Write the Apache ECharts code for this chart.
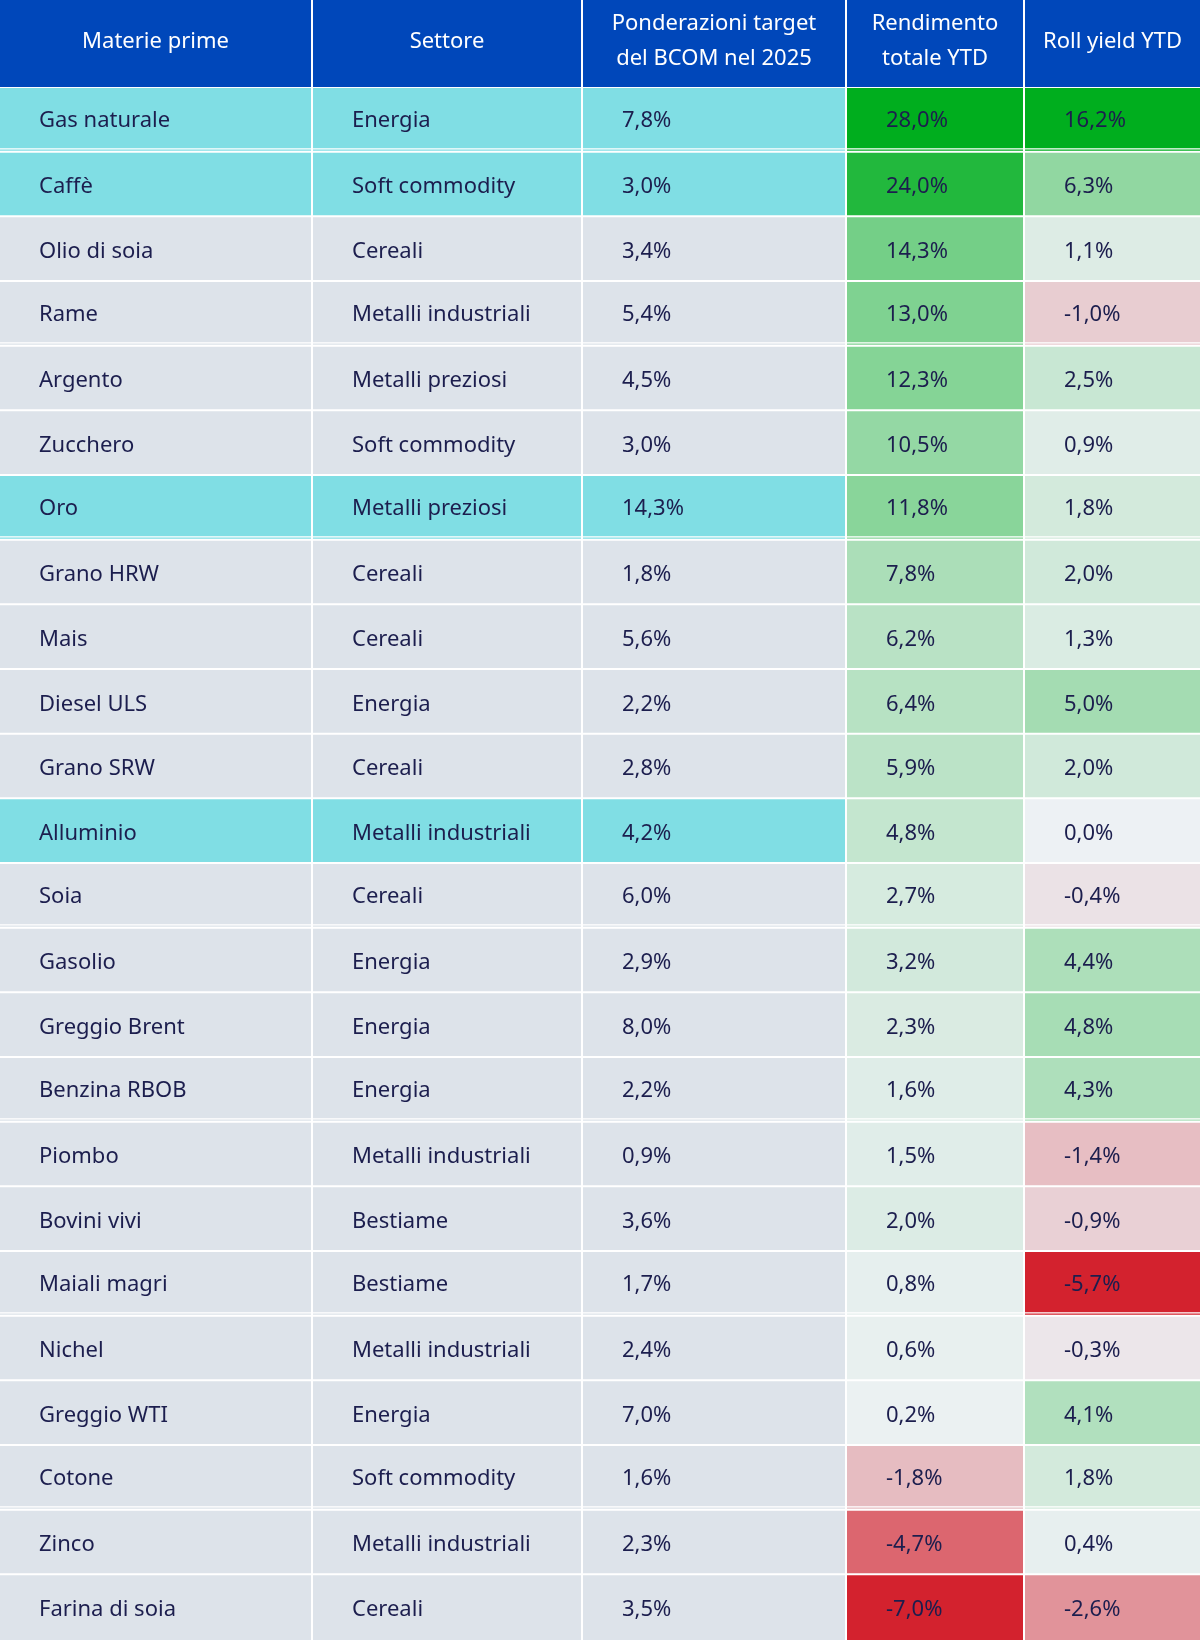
<!DOCTYPE html>
<html>
<head>
<meta charset="utf-8">
<script src="https://cdn.jsdelivr.net/npm/echarts@6/dist/echarts.min.js"></script>
<style>
html,body{margin:0;padding:0;background:#ffffff;}
#chart{width:1200px;height:1640px;}
</style>
</head>
<body>
<div id="chart"></div>
<script>
// ---- Data ----
var headers = ['Materie prime', 'Settore', 'Ponderazioni target\ndel BCOM nel 2025', 'Rendimento\ntotale YTD', 'Roll yield YTD'];
var commodities = ['Gas naturale','Caffè','Olio di soia','Rame','Argento','Zucchero','Oro','Grano HRW','Mais','Diesel ULS','Grano SRW','Alluminio','Soia','Gasolio','Greggio Brent','Benzina RBOB','Piombo','Bovini vivi','Maiali magri','Nichel','Greggio WTI','Cotone','Zinco','Farina di soia'];
var sectors = ['Energia','Soft commodity','Cereali','Metalli industriali','Metalli preziosi','Soft commodity','Metalli preziosi','Cereali','Cereali','Energia','Cereali','Metalli industriali','Cereali','Energia','Energia','Energia','Metalli industriali','Bestiame','Bestiame','Metalli industriali','Energia','Soft commodity','Metalli industriali','Cereali'];
var weights = [7.8,3.0,3.4,5.4,4.5,3.0,14.3,1.8,5.6,2.2,2.8,4.2,6.0,2.9,8.0,2.2,0.9,3.6,1.7,2.4,7.0,1.6,2.3,3.5];
var totalReturn = [28.0,24.0,14.3,13.0,12.3,10.5,11.8,7.8,6.2,6.4,5.9,4.8,2.7,3.2,2.3,1.6,1.5,2.0,0.8,0.6,0.2,-1.8,-4.7,-7.0];
var rollYield = [16.2,6.3,1.1,-1.0,2.5,0.9,1.8,2.0,1.3,5.0,2.0,0.0,-0.4,4.4,4.8,4.3,-1.4,-0.9,-5.7,-0.3,4.1,1.8,0.4,-2.6];
var highlighted = ['Gas naturale','Caffè','Oro','Alluminio'];
var doubleRuleAfter = ['Gas naturale','Rame','Oro','Soia','Benzina RBOB','Maiali magri','Cotone'];

// ---- Layout / style ----
var colWidths = [312, 270, 264, 178, 176];
var colEdges = [0];
colWidths.forEach(function (w, i) { colEdges.push(colEdges[i] + w); });
var totalW = colEdges[colEdges.length - 1];
var C = {
  header: '#0047BA', gray: '#DDE3EA', cyan: '#80DEE4', text: '#1C1E4E',
  mid: [237, 241, 244], green: [0, 174, 30], red: [211, 34, 46]
};
var FONT = "'Noto Sans', sans-serif";
var PAD = 39;

function fmt(v) { return v.toFixed(1).replace('.', ',') + '%'; }
function mix(a, b, t) {
  t = Math.max(0, Math.min(1, t));
  return 'rgb(' + [0,1,2].map(function (k) { return Math.round(a[k] + (b[k] - a[k]) * t); }).join(',') + ')';
}
function scaleColor(arr) {
  var mx = Math.max.apply(null, arr), mn = Math.min.apply(null, arr);
  return function (v) {
    if (v >= 0) return mix(C.mid, C.green, mx > 0 ? v / mx : 0);
    return mix(C.mid, C.red, mn < 0 ? v / mn : 0);
  };
}
var trColor = scaleColor(totalReturn);
var ryColor = scaleColor(rollYield);

var bodyData = [];
commodities.forEach(function (name, r) {
  for (var c = 0; c < 5; c++) bodyData.push([c, r]);
});
var headerData = headers.map(function (h, c) { return [c, 0]; });

function cellText(c, r) {
  if (c === 0) return commodities[r];
  if (c === 1) return sectors[r];
  if (c === 2) return fmt(weights[r]);
  if (c === 3) return fmt(totalReturn[r]);
  return fmt(rollYield[r]);
}
function cellFill(c, r) {
  if (c === 3) return trColor(totalReturn[r]);
  if (c === 4) return ryColor(rollYield[r]);
  return highlighted.indexOf(commodities[r]) >= 0 ? C.cyan : C.gray;
}

var chart = echarts.init(document.getElementById('chart'), null, { renderer: 'canvas' });
chart.setOption({
  animation: false,
  backgroundColor: '#ffffff',
  grid: [
    { left: 0, right: 0, top: 0, height: 87 },
    { left: 0, right: 0, top: 88, bottom: 0 }
  ],
  xAxis: [
    { type: 'value', gridIndex: 0, min: 0, max: totalW, show: false },
    { type: 'value', gridIndex: 1, min: 0, max: totalW, show: false }
  ],
  yAxis: [
    { type: 'category', gridIndex: 0, data: ['header'], show: false },
    { type: 'category', gridIndex: 1, data: commodities, inverse: true, show: false }
  ],
  series: [
    {
      type: 'custom', xAxisIndex: 0, yAxisIndex: 0, data: headerData, silent: true,
      renderItem: function (params, api) {
        var c = api.value(0);
        var p0 = api.coord([colEdges[c], 0]);
        var p1 = api.coord([colEdges[c + 1], 0]);
        var h = api.size([0, 1])[1];
        var x0 = c === 0 ? p0[0] : p0[0] + 1;
        var x1 = c === 4 ? p1[0] : p1[0] - 1;
        return {
          type: 'group',
          children: [
            { type: 'rect', shape: { x: x0, y: p0[1] - h / 2, width: x1 - x0, height: h }, style: { fill: C.header } },
            { type: 'text', x: (x0 + x1) / 2, y: p0[1] - 2,
              style: { text: headers[c], fill: '#ffffff', font: '22px ' + FONT, align: 'center', verticalAlign: 'middle', lineHeight: 35 } }
          ]
        };
      }
    },
    {
      type: 'custom', xAxisIndex: 1, yAxisIndex: 1, data: bodyData, silent: true,
      renderItem: function (params, api) {
        var c = api.value(0), r = api.value(1);
        var p0 = api.coord([colEdges[c], r]);
        var p1 = api.coord([colEdges[c + 1], r]);
        var h = api.size([0, 1])[1];
        var top = p0[1] - h / 2;
        var bottom = p0[1] + h / 2;
        var x0 = c === 0 ? p0[0] : p0[0] + 1;
        var x1 = c === 4 ? p1[0] : p1[0] - 1;
        var fill = cellFill(c, r);
        var children = [];
        var isDouble = doubleRuleAfter.indexOf(commodities[r]) >= 0;
        var last = r === commodities.length - 1;
        if (isDouble) {
          children.push({ type: 'rect', shape: { x: x0, y: top, width: x1 - x0, height: h - 4.5 }, style: { fill: fill } });
          children.push({ type: 'rect', shape: { x: x0, y: bottom - 3.2, width: x1 - x0, height: 1.2 }, style: { fill: fill } });
        } else {
          children.push({ type: 'rect', shape: { x: x0, y: top, width: x1 - x0, height: last ? h : h - 2 }, style: { fill: fill } });
        }
        var cy = isDouble ? top + (h - 4.5) / 2 : top + (h - 2) / 2;
        children.push({ type: 'text', x: x0 + PAD, y: cy + 3,
          style: { text: cellText(c, r), fill: C.text, font: '22px ' + FONT, align: 'left', verticalAlign: 'middle' } });
        return { type: 'group', children: children };
      }
    }
  ]
});
</script>
</body>
</html>
